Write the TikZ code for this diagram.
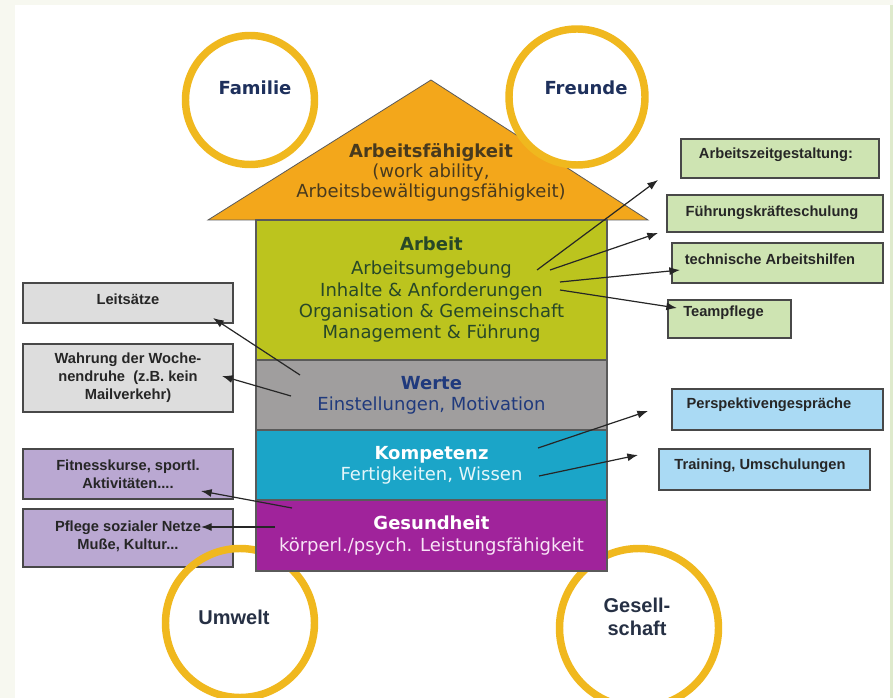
\documentclass[tikz,border=0pt]{standalone}
\usepackage{fontspec}
\setmainfont{DejaVu Sans}
\newfontfamily\arialfont{Liberation Sans}
\usetikzlibrary{arrows.meta}

\definecolor{framebg}{RGB}{247,248,240}
\definecolor{framegreen}{RGB}{222,234,204}
\definecolor{roofc}{RGB}{243,167,27}
\definecolor{arbeitc}{RGB}{188,196,30}
\definecolor{wertec}{RGB}{160,158,158}
\definecolor{kompc}{RGB}{27,165,200}
\definecolor{gesc}{RGB}{160,35,155}
\definecolor{ringc}{RGB}{240,184,30}
\definecolor{roottxt}{RGB}{72,58,30}
\definecolor{arbtxt}{RGB}{40,72,40}
\definecolor{wertetxt}{RGB}{32,58,125}
\definecolor{komptxt}{RGB}{228,246,250}
\definecolor{gestxt}{RGB}{248,228,246}
\definecolor{navy}{RGB}{30,48,92}
\definecolor{darknavy}{RGB}{38,48,68}
\definecolor{grayboxc}{RGB}{221,221,221}
\definecolor{lilac}{RGB}{186,168,210}
\definecolor{palegreen}{RGB}{206,228,178}
\definecolor{paleblue}{RGB}{170,218,244}
\definecolor{boxline}{RGB}{72,72,72}
\definecolor{bandline}{RGB}{90,90,90}

\tikzset{
  band/.style={draw=bandline, line width=0.8pt, inner sep=0pt, outer sep=0pt,
    minimum width=263.25pt, align=center,
    font=\fontsize{13.5}{16}\selectfont},
  sidebox/.style={draw=boxline, line width=1.2pt, inner sep=0pt, outer sep=0pt},
  boxtext/.style={font=\arialfont\bfseries\fontsize{11}{13.6}\selectfont,
    text=black!85, align=center, inner sep=0pt},
  ring/.style={draw=ringc, line width=5.6pt},
  ringtext/.style={font=\bfseries\fontsize{13.5}{16}\selectfont, text=navy},
  ringtextb/.style={font=\arialfont\bfseries\fontsize{15}{17}\selectfont,
    text=darknavy, align=center},
  link/.style={draw=black!85, line width=0.9pt,
    -{Latex[length=8pt,width=6pt]}}
}

\begin{document}
\begin{tikzpicture}[x=0.75pt,y=-0.75pt]
% page and frame
\useasboundingbox (0,0) rectangle (893,698);
\fill[framebg] (0,0) rectangle (893,698);
\fill[white] (15,5) rectangle (890,698);
\fill[framegreen] (890,5) rectangle (893,698);

% left-hand boxes
\node[sidebox, fill=grayboxc, minimum width=157.5pt, minimum height=30pt] (leit) at (128,303) {};
\node[boxtext] (leitT) at (128,299) {Leitsätze};
\node[sidebox, fill=grayboxc, minimum width=157.5pt, minimum height=51pt] (wahr) at (128,378) {};
\node[boxtext] (wahrT) at (128,378) {Wahrung der Woche-\\nendruhe\ \ (z.B. kein\\Mailverkehr)};
\node[sidebox, fill=lilac, minimum width=157.5pt, minimum height=37.5pt] (fit) at (128,474) {};
\node[boxtext] (fitT) at (128,474) {Fitnesskurse, sportl.\\Aktivitäten....};
\node[sidebox, fill=lilac, minimum width=157.5pt, minimum height=43.5pt] (pfl) at (128,538) {};
\node[boxtext] (pflT) at (128,536) {Pflege sozialer Netze\\Muße, Kultur...};

% roof
\path[fill=roofc, draw=bandline, line width=0.6pt] (208,220) -- (431,80) -- (648,220) -- cycle;
\node[align=center, text=roottxt, font=\fontsize{13.5}{15}\selectfont] (roofT) at (431,172)
  {\textbf{Arbeitsfähigkeit}\\(work ability,\\Arbeitsbewältigungsfähigkeit)};

% surrounding circles
\node[ring, fill=white, circle, minimum size=96.75pt, inner sep=0pt] (famC) at (250,100) {};
\node[ringtext] (famT) at (255,88) {Familie};
\node[ring, fill=white, circle, minimum size=102pt, inner sep=0pt] (freC) at (577,97) {};
\node[ringtext] (freT) at (586,88) {Freunde};
\node[ring, circle, minimum size=111.75pt, inner sep=0pt] (umwC) at (240,623) {};
\node[ringtextb] (umwT) at (234,617) {Umwelt};
\node[ring, circle, minimum size=119.25pt, inner sep=0pt] (gesC) at (639,628) {};
\node[ringtextb] (gesT) at (637,617) {Gesell-\\schaft};

% house body
\node[band, fill=arbeitc, text=arbtxt, minimum height=105pt] (arbeit) at (431.5,290)
  {\textbf{Arbeit}\\[2pt]Arbeitsumgebung\\Inhalte \& Anforderungen\\Organisation \& Gemeinschaft\\Management \& Führung};
\node[band, fill=wertec, text=wertetxt, minimum height=52.5pt] (werte) at (431.5,395)
  {\textbf{Werte}\\Einstellungen, Motivation};
\node[band, fill=kompc, text=komptxt, minimum height=52.5pt] (kompetenz) at (431.5,465)
  {\textcolor{white}{\textbf{Kompetenz}}\\Fertigkeiten, Wissen};
\node[band, fill=gesc, text=gestxt, minimum height=53.25pt] (gesundheit) at (431.5,535.5)
  {\textcolor{white}{\textbf{Gesundheit}}\\körperl./psych. Leistungsfähigkeit};

% right-hand boxes
\node[sidebox, fill=palegreen, minimum width=148.5pt, minimum height=29.25pt] (azg) at (780,158.5) {};
\node[boxtext] (azgT) at (776,155) {Arbeitszeitgestaltung:};
\node[sidebox, fill=palegreen, minimum width=162pt, minimum height=27.75pt] (fks) at (775,213.5) {};
\node[boxtext] (fksT) at (772,213) {Führungskräfteschulung};
\node[sidebox, fill=palegreen, minimum width=158.25pt, minimum height=30pt] (tah) at (777.5,263) {};
\node[boxtext] (tahT) at (770,259) {technische Arbeitshilfen};
\node[sidebox, fill=palegreen, minimum width=92.25pt, minimum height=28.5pt] (tp) at (729.5,319) {};
\node[boxtext, anchor=west] (tpT) at (683,313) {Teampflege};
\node[sidebox, fill=paleblue, minimum width=158.25pt, minimum height=30.75pt] (pg) at (777.5,409.5) {};
\node[boxtext] (pgT) at (769,405) {Perspektivengespräche};
\node[sidebox, fill=paleblue, minimum width=158.25pt, minimum height=30.75pt] (tr) at (764.5,469.5) {};
\node[boxtext] (trT) at (760,466) {Training, Umschulungen};

% arrow ends
\coordinate (a1s) at (537,270);  \coordinate (a1e) at (658,180);
\coordinate (a2s) at (550,270);  \coordinate (a2e) at (658,233);
\coordinate (a3s) at (560,282);  \coordinate (a3e) at (680,270);
\coordinate (a4s) at (560,290);  \coordinate (a4e) at (677,308);
\coordinate (b1s) at (300,375);  \coordinate (b1e) at (213,318);
\coordinate (b2s) at (291,396);  \coordinate (b2e) at (222,376);
\coordinate (c1s) at (292,508);  \coordinate (c1e) at (201,491);
\coordinate (c2s) at (275,527);  \coordinate (c2e) at (201,527);
\coordinate (d1s) at (538,448);  \coordinate (d1e) at (648,411);
\coordinate (d2s) at (539,476);  \coordinate (d2e) at (638,455);

% arrows
\draw[link] (a1s) -- (a1e);
\draw[link] (a2s) -- (a2e);
\draw[link] (a3s) -- (a3e);
\draw[link] (a4s) -- (a4e);
\draw[link] (b1s) -- (b1e);
\draw[link] (b2s) -- (b2e);
\draw[link] (c1s) -- (c1e);
\draw[link] (c2s) -- (c2e);
\draw[link] (d1s) -- (d1e);
\draw[link] (d2s) -- (d2e);
\end{tikzpicture}
\end{document}
